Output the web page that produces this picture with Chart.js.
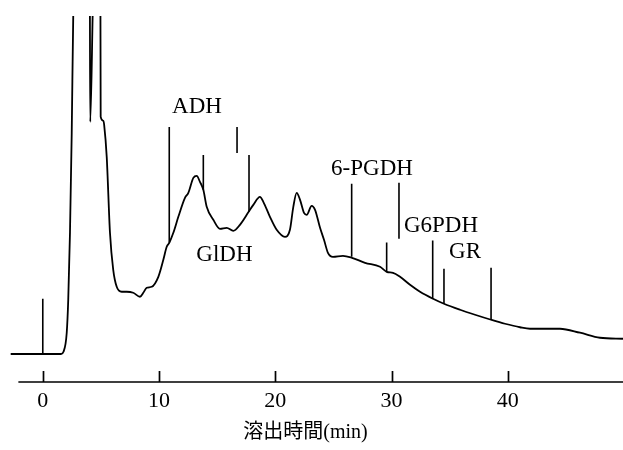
<!DOCTYPE html>
<html>
<head>
<meta charset="utf-8">
<script src="https://cdn.jsdelivr.net/npm/chart.js@4/dist/chart.umd.min.js"></script>
<style>
  html, body { margin: 0; padding: 0; background: #fff; }
  #wrap { width: 623px; height: 450px; }
</style>
</head>
<body>
<div id="wrap"><canvas id="chart-elution"></canvas></div>
<script>
// elution profile (time in min, detector signal; values above 33.8 run off scale)
const curveTime = [
  -2.76, 0, 1.57, 1.78, 2.06, 2.19, 2.34, 2.49, 2.62, 2.86, 3.89, 4.04, 4.08, 4.34, 4.58,
  4.95, 4.98, 5.22, 5.28, 5.5, 5.78, 6.06, 6.36, 6.79, 7.22, 7.78, 8.36, 8.65, 8.94, 9.37,
  9.94, 10.37, 10.66, 10.88, 11.23, 11.66, 12.23, 12.52, 12.95, 13.24, 13.52, 13.81, 14.1,
  14.67, 15.24, 15.82, 16.39, 16.96, 17.71, 18.11, 18.68, 18.97, 19.54, 20.12, 20.83, 21.26,
  21.55, 21.84, 22.13, 22.47, 22.7, 23.13, 23.42, 23.85, 24.19, 24.53, 24.96, 25.82, 26.6,
  27.72, 29.01, 29.58, 30.13, 30.73, 31.59, 32.45, 33.57, 34.51, 35.89, 37.18, 38.56, 39.76,
  41.05, 41.91, 44.49, 46.21, 47.93, 49.91
];
const curveSignal = [
  0, 0, 0, 0.23, 2.13, 5.43, 12.13, 22.13, 33.83, 41.4, 41.4, 39.4, 23.23, 36.43, 41.4,
  39.4, 23.73, 23.33, 22.93, 19.73, 12.13, 8.43, 6.73, 6.23, 6.23, 6.13, 5.73, 6.13, 6.63, 6.73,
  7.73, 9.43, 10.73, 11.13, 12.13, 13.73, 15.63, 16.13, 17.63, 17.83, 17.23, 16.43, 14.73,
  13.43, 12.53, 12.63, 12.33, 12.93, 14.23, 14.93, 15.73, 15.23, 13.73, 12.43, 11.73, 12.43,
  14.73, 16.13, 15.43, 14.13, 13.93, 14.83, 14.43, 12.63, 11.43, 10.13, 9.73, 9.83, 9.63,
  9.13, 8.73, 8.23, 8.13, 7.73, 6.93, 6.23, 5.53, 5.03, 4.43, 3.93, 3.43, 3.03,
  2.68, 2.53, 2.53, 2.13, 1.63, 1.53
];

// fraction marks drawn over the trace
const markTime   = [0, 10.88, 13.81, 16.71, 17.74, 26.57, 30.64, 29.58, 33.54, 34.51, 38.56];
const markTop    = [5.53, 22.73, 19.93, 22.73, 19.93, 17.03, 17.13, 11.16, 11.36, 8.53, 8.63];
const markBottom = [0, 11.13, 16.43, 20.13, 14.23, 9.73, 11.53, 8.23, 5.5, 5.03, 3.43];

// enzyme names, anchored at (time, signal)
const enzymeNames  = ['ADH', 'GlDH', '6-PGDH', 'G6PDH', 'GR'];
const enzymeTime   = [13.26, 15.63, 28.32, 34.25, 36.32];
const enzymeSignal = [24.68, 9.93, 18.48, 12.83, 10.18];

const tickValues = [0, 10, 20, 30, 40];
const axisTitle = '溶出時間(min)';

const INK = '#000';
const SERIF = '"Liberation Serif", "Noto Sans CJK JP", serif';

const axisDecor = {
  id: 'axisDecor',
  afterDatasetsDraw(chart) {
    const { ctx, chartArea, scales: { x, y } } = chart;
    ctx.save();
    ctx.strokeStyle = INK;
    ctx.lineWidth = 1.7;
    ctx.beginPath();
    ctx.moveTo(x.getPixelForValue(-2.1), chartArea.bottom);
    ctx.lineTo(chartArea.right, chartArea.bottom);
    tickValues.forEach(v => {
      const px = Math.round(x.getPixelForValue(v)) + 0.5;
      ctx.moveTo(px, chartArea.bottom);
      ctx.lineTo(px, chartArea.bottom - 11);
    });
    ctx.stroke();

    ctx.fillStyle = INK;
    ctx.font = '23px ' + SERIF;
    ctx.textAlign = 'center';
    ctx.textBaseline = 'middle';
    enzymeNames.forEach((name, i) => {
      ctx.fillText(name, x.getPixelForValue(enzymeTime[i]), y.getPixelForValue(enzymeSignal[i]));
    });

    // axis title sits a little left of the plot centre, under 20 min
    ctx.font = '20px ' + SERIF;
    ctx.fillText(axisTitle, x.getPixelForValue(22.6), chartArea.bottom + 51);
    ctx.restore();
  }
};

const markSets = markTime.map((t, i) => ({
  data: [{ x: t, y: markTop[i] }, { x: t, y: markBottom[i] }],
  showLine: true, borderColor: INK, borderWidth: 1.6, pointRadius: 0,
}));

new Chart(document.getElementById('chart-elution'), {
  type: 'scatter',
  data: {
    datasets: [
      {
        data: curveTime.map((t, i) => ({ x: t, y: curveSignal[i] })),
        showLine: true, borderColor: INK, borderWidth: 1.8, pointRadius: 0,
        cubicInterpolationMode: 'monotone',
      },
      ...markSets,
    ]
  },
  options: {
    responsive: true, maintainAspectRatio: false, animation: false,
    layout: { padding: { top: 16, left: 0, right: 0, bottom: 0 } },
    plugins: { legend: { display: false }, tooltip: { enabled: false } },
    scales: {
      x: {
        type: 'linear', min: -3.68, max: 49.91,
        afterBuildTicks: s => { s.ticks = tickValues.map(v => ({ value: v })); },
        afterFit: s => { s.height = 68; },
        border: { display: false },
        grid: { display: false, drawTicks: false },
        ticks: { color: INK, padding: 6, font: { family: SERIF, size: 22 } },
      },
      y: { display: false, min: -2.8, max: 33.83 }
    }
  },
  plugins: [axisDecor],
});
</script>
</body>
</html>
